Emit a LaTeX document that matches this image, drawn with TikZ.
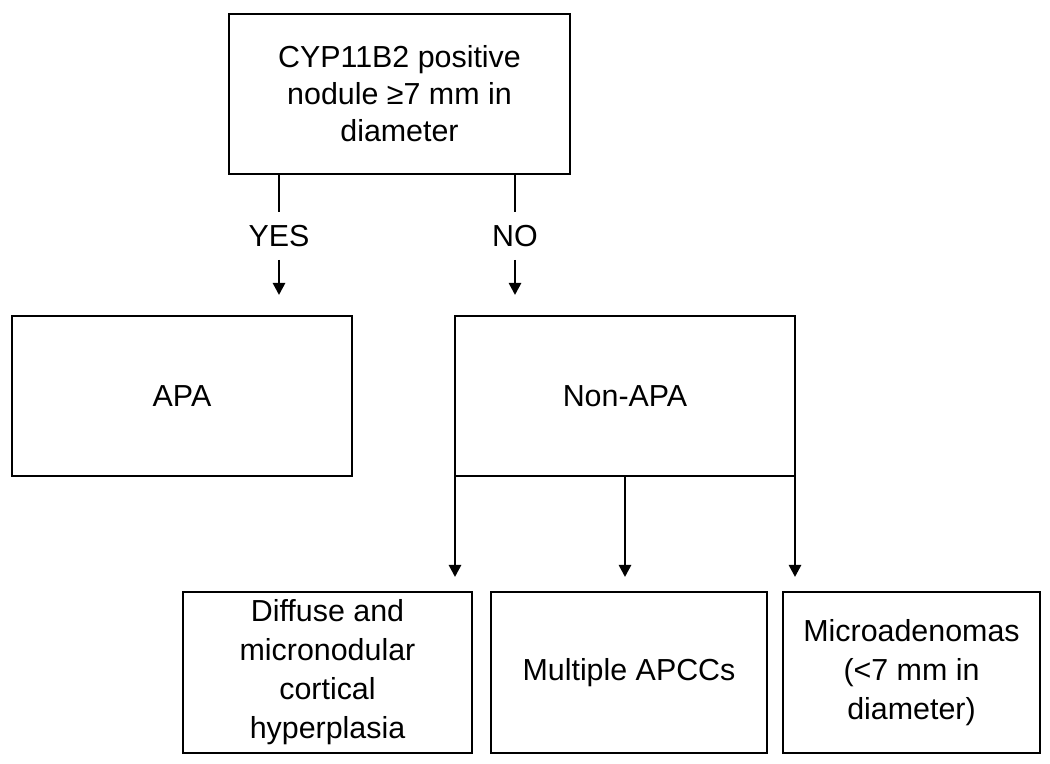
\documentclass[tikz,border=0pt]{standalone}
\usepackage{fontspec}
\setmainfont{Liberation Sans}
\usetikzlibrary{arrows.meta}
\begin{document}
\begin{tikzpicture}[x=0.5pt,y=-0.5pt,
  box/.style={draw,line width=1.4pt,rectangle,inner sep=0pt,outer sep=0pt,align=center,
    font=\fontsize{15.2pt}{18.5pt}\selectfont},
  lowbox/.style={box,font=\fontsize{15.2pt}{19.5pt}\selectfont},
  lbl/.style={inner sep=0pt,outer sep=0pt,minimum height=24pt,font=\fontsize{15.2pt}{18pt}\selectfont},
  conn/.style={line width=1.3pt},
  arr/.style={conn,-{Triangle[width=6pt,length=6pt]}}]
\useasboundingbox (0,0) rectangle (1050,764);
\node[box,minimum width=170.5pt,minimum height=80pt] (top) at (399.5,94)
  {CYP11B2 positive\\nodule ≥7 mm in\\diameter};
\node[box,minimum width=170pt,minimum height=80pt] (apa) at (182,396) {APA};
\node[box,minimum width=170pt,minimum height=80pt] (nonapa) at (625,396) {Non-APA};
\node[lowbox,minimum width=144.5pt,minimum height=80.5pt] (diff) at (327.5,672.5)
  {Diffuse and\\micronodular\\cortical\\hyperplasia};
\node[lowbox,minimum width=138pt,minimum height=80.5pt] (mult) at (629,672.5)
  {Multiple APCCs};
\node[lowbox,minimum width=128.5pt,minimum height=80.5pt] (micro) at (911.5,672.5)
  {Microadenomas\\(<7 mm in\\diameter)};
\node[lbl] (yes) at (279,236) {YES};
\node[lbl] (no) at (515,236) {NO};
\draw[conn] (top.south -| yes) -- (yes.north);
\draw[conn] (top.south -| no) -- (no.north);
\draw[arr,shorten >=10.5pt] (yes.south) -- (apa.north -| yes);
\draw[arr,shorten >=10.5pt] (no.south) -- (nonapa.north -| no);
\draw[arr,shorten >=7.5pt] (nonapa.south west) -- (nonapa.south west |- diff.north);
\draw[arr,shorten >=7.5pt] (nonapa.south) -- (nonapa.south |- mult.north);
\draw[arr,shorten >=7.5pt] (nonapa.south east) -- (nonapa.south east |- micro.north);
\end{tikzpicture}
\end{document}
